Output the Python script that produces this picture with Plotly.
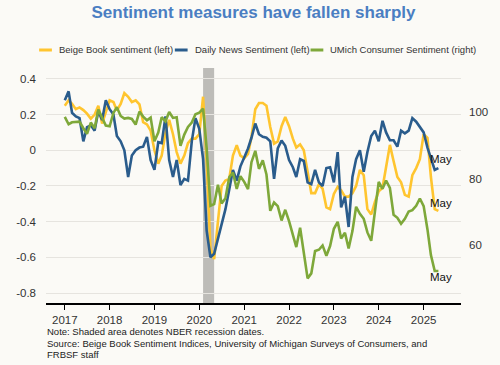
import pandas as pd
import plotly.graph_objects as go

# ---------------- data ----------------
months = pd.date_range("2017-01-01", "2025-05-01", freq="MS")

series_names = ["Beige Book sentiment (left)", "Daily News Sentiment (left)",
                "UMich Consumer Sentiment (right)"]

beige_book = [
    0.25, 0.28, 0.26, 0.23, 0.24, 0.225, 0.205, 0.177, 0.20, 0.25, 0.15, 0.22,    # 2017
    0.28, 0.27, 0.223, 0.26, 0.32, 0.30, 0.27, 0.28, 0.257, 0.158, 0.145, 0.11,   # 2018
    0.0, -0.075, -0.03, 0.10, 0.17, 0.09, -0.01, -0.075, -0.03, 0.04, 0.065, 0.065,  # 2019
    0.09, 0.30, -0.06, -0.55, -0.61, -0.40, -0.20, -0.17, -0.16, -0.03, 0.028, -0.03,  # 2020
    -0.045, -0.02, 0.074, 0.23, 0.265, 0.265, 0.25, 0.13, 0.037, 0.05, 0.135, 0.186,  # 2021
    0.135, 0.065, 0.015, 0.033, 0.0, -0.12, -0.24, -0.24, -0.19, -0.215, -0.32, -0.33,  # 2022
    -0.245, -0.205, -0.225, -0.26, -0.26, -0.24, -0.20, -0.11, -0.14, -0.33, -0.36, -0.29,  # 2023
    -0.23, -0.21, -0.10, 0.03, -0.06, -0.15, -0.18, -0.25, -0.26, -0.14, -0.10, -0.05,  # 2024
    0.09, 0.07, -0.15, -0.33, -0.34,                                                  # 2025
]

daily_news = [
    0.28, 0.33, 0.21, 0.19, 0.18, 0.05, 0.13, 0.14, 0.11, 0.22, 0.17, 0.28,      # 2017
    0.23, 0.20, 0.08, 0.05, 0.0, -0.15, -0.03, 0.0, 0.015, 0.02, 0.075, -0.055,  # 2018
    -0.11, 0.045, 0.04, 0.19, -0.055, -0.15, -0.055, -0.195, -0.16, -0.17, 0.05, 0.18,  # 2019
    0.12, -0.05, -0.45, -0.60, -0.58, -0.50, -0.42, -0.33, -0.22, -0.11, -0.17, -0.09,  # 2020
    -0.04, 0.01, 0.07, 0.15, 0.09, 0.075, 0.07, 0.05, -0.16, 0.01, 0.055, 0.025,  # 2021
    -0.055, -0.095, -0.15, -0.05, -0.06, -0.18, -0.19, -0.11, -0.18, -0.20, -0.10, -0.095,  # 2022
    -0.18, -0.01, -0.32, -0.26, -0.43, -0.15, -0.05, 0.0, -0.12, -0.01, 0.08, 0.11,  # 2023
    0.05, 0.165, 0.10, 0.056, 0.056, 0.02, 0.11, 0.095, 0.11, 0.18, 0.16, 0.13,  # 2024
    0.10, 0.015, -0.05, -0.11, -0.10,                                              # 2025
]

umich = [
    98.5, 96.3, 96.9, 97.0, 97.1, 95.1, 93.4, 96.8, 95.1, 100.7, 98.5, 95.9,   # 2017
    95.7, 99.7, 101.4, 98.8, 98.0, 98.2, 97.9, 96.2, 100.1, 98.6, 97.5, 98.3,  # 2018
    91.2, 93.8, 98.4, 97.2, 100.0, 98.2, 98.4, 89.8, 93.2, 95.5, 96.8, 99.3,   # 2019
    99.8, 101.0, 89.1, 71.8, 72.3, 78.1, 72.5, 74.1, 80.4, 81.8, 76.9, 80.7,   # 2020
    79.0, 76.8, 84.9, 88.3, 82.9, 85.5, 81.2, 70.3, 72.8, 71.7, 67.4, 70.6,    # 2021
    67.2, 62.8, 59.4, 65.2, 58.4, 50.0, 51.5, 58.2, 58.6, 59.9, 56.8, 59.7,    # 2022
    64.9, 67.0, 62.0, 63.7, 59.0, 64.2, 71.5, 69.4, 67.9, 63.8, 61.3, 69.7,    # 2023
    79.0, 76.9, 79.4, 77.2, 69.1, 68.2, 66.4, 67.9, 70.1, 70.5, 71.8, 74.0,    # 2024
    71.7, 64.7, 57.0, 52.2, 52.2,                                              # 2025
]

left_ticks = [-0.8, -0.6, -0.4, -0.2, 0, 0.2, 0.4]
left_tick_labels = ["-0.8", "-0.6", "-0.4", "-0.2", "0", "0.2", "0.4"]
right_ticks = [60, 80, 100]

recession_start = "2020-02-01"
recession_end = "2020-05-01"
end_label = "May"

title_text = "Sentiment measures have fallen sharply"
notes = [
    "Note: Shaded area denotes NBER recession dates.",
    "Source: Beige Book Sentiment Indices, University of Michigan Surveys of Consumers, and",
    "FRBSF staff",
]

# ---------------- style ----------------
colors = ["#FFC52F", "#2A5C8C", "#7EA83A"]
FONT = "Arial, Liberation Sans, sans-serif"
W, H = 500, 365
ML, MR, MT, MB = 46, 32, 68, 62
PW, PH = W - ML - MR, H - MT - MB


def px_x(x):
    return (x - ML) / PW


def px_y(y):
    return (H - MB - y) / PH


fig = go.Figure()

fig.add_vrect(x0=recession_start, x1=recession_end, fillcolor="#BDBCB8",
              opacity=1, line_width=0, layer="below")

fig.add_trace(go.Scatter(x=months, y=beige_book, mode="lines", name=series_names[0],
                         line=dict(color=colors[0], width=2.6), showlegend=False))
fig.add_trace(go.Scatter(x=months, y=daily_news, mode="lines", name=series_names[1],
                         line=dict(color=colors[1], width=2.6), showlegend=False))
fig.add_trace(go.Scatter(x=months, y=umich, mode="lines", name=series_names[2],
                         line=dict(color=colors[2], width=2.6), showlegend=False,
                         yaxis="y2"))

# end labels
last = months[-1]
lab_font = dict(family=FONT, size=11.5, color="#111")
fig.add_annotation(x=last, y=daily_news[-1], yref="y", text=end_label, showarrow=False,
                   xanchor="center", yanchor="middle", xshift=3, yshift=9, font=lab_font)
fig.add_annotation(x=last, y=beige_book[-1], yref="y", text=end_label, showarrow=False,
                   xanchor="center", yanchor="middle", xshift=3, yshift=8, font=lab_font)
fig.add_annotation(x=last, y=umich[-1], yref="y2", text=end_label, showarrow=False,
                   xanchor="center", yanchor="middle", xshift=3, yshift=-6, font=lab_font)

# custom legend
leg_y = px_y(50)
leg_line_x = [(39, 52), (177, 190), (315, 328)]
for (x0, x1), c, name in zip(leg_line_x, colors, series_names):
    fig.add_shape(type="line", xref="paper", yref="paper", x0=px_x(x0), x1=px_x(x1),
                  y0=leg_y, y1=leg_y, line=dict(color=c, width=3))
    fig.add_annotation(xref="paper", yref="paper", x=px_x(x1 + 5), y=leg_y, text=name,
                       showarrow=False, xanchor="left", yanchor="middle",
                       font=dict(family=FONT, size=9.5, color="#333"))

# notes
for i, line in enumerate(notes):
    fig.add_annotation(xref="paper", yref="paper", x=px_x(45), y=px_y(331.5 + i * 11.7),
                       text=line, showarrow=False, xanchor="left", yanchor="middle",
                       font=dict(family=FONT, size=9.5, color="#222"))

fig.update_layout(
    width=W, height=H,
    margin=dict(l=ML, r=MR, t=MT, b=MB),
    paper_bgcolor="#FBFAF6", plot_bgcolor="#FBFAF6",
    font=dict(family=FONT, size=11, color="#333"),
    title=dict(text="<b>" + title_text + "</b>", x=0.5, xref="paper", xanchor="center",
               y=1 - 12.5 / H, yref="container", yanchor="middle",
               font=dict(family=FONT, size=17, color="#4A7EC2")),
    xaxis=dict(type="date", range=["2016-08-01", "2025-11-01"],
               tick0="2017-01-01", dtick="M12", tickformat="%Y",
               ticks="outside", ticklen=5, tickcolor="#000", tickwidth=1,
               showline=True, linecolor="#000", linewidth=2,
               showgrid=False, zeroline=False,
               tickfont=dict(family=FONT, size=11.5, color="#333")),
    yaxis=dict(range=[-0.856, 0.461], tickvals=left_ticks, ticktext=left_tick_labels,
               showgrid=True, gridcolor="#E6E4DF", gridwidth=1, zeroline=False,
               showline=False, ticks="", ticklabelstandoff=9,
               tickfont=dict(family=FONT, size=11.5, color="#333")),
    yaxis2=dict(range=[42.6, 113.2], tickvals=right_ticks, overlaying="y", side="right",
                showgrid=False, zeroline=False, showline=False, ticks="",
                ticklabelstandoff=7,
                tickfont=dict(family=FONT, size=11.5, color="#333")),
)

fig.write_html("out.html",
               config={"displayModeBar": False},
               post_script="document.body.style.margin='0px';"
                           "document.body.style.overflow='hidden';")
